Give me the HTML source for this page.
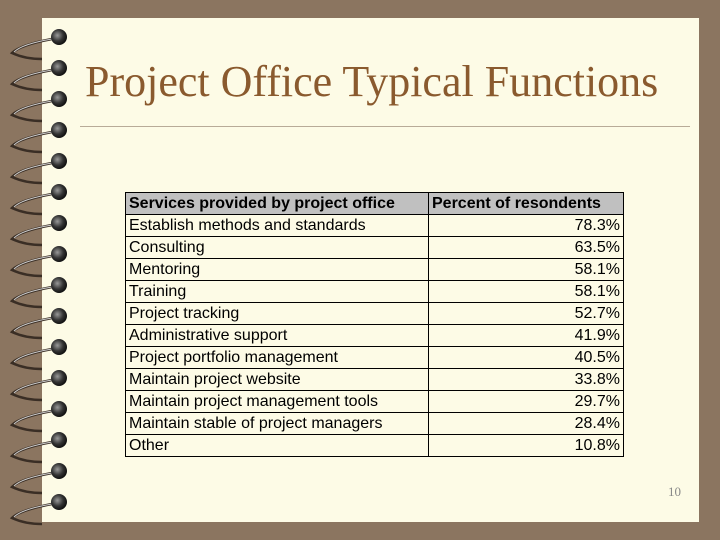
<!DOCTYPE html>
<html><head><meta charset="utf-8"><style>
body{margin:0;width:720px;height:540px;background:#8b7560;position:relative;overflow:hidden;font-family:"Liberation Sans",Arial,sans-serif}
#page{position:absolute;left:42px;top:18px;width:657px;height:504px;background:#fdfbe6}
#title{position:absolute;left:85px;top:56px;font-family:"Liberation Serif",serif;font-size:44px;color:#8a5a2e;white-space:nowrap}
#rule{position:absolute;left:80px;top:126px;width:610px;height:1px;background:#b8ab98}
table{position:absolute;left:125px;top:192px;width:499px;border-collapse:collapse;font-size:16px;color:#000}
td{border:1px solid #000;height:21px;padding:0 3px;line-height:21px;white-space:nowrap}
tr.h td{background:#c0c0c0;font-weight:bold}
td.v{text-align:right}
#num{position:absolute;left:668px;top:484px;font-family:"Liberation Serif",serif;font-size:13px;color:#888}
</style></head><body>
<div id="page"></div>
<svg id="rings" width="80" height="540" style="position:absolute;left:0;top:0">
<defs><radialGradient id="g" cx="0.4" cy="0.4" r="0.6"><stop offset="0" stop-color="#999"/><stop offset="0.6" stop-color="#333"/><stop offset="1" stop-color="#111"/></radialGradient></defs>
<g id="rg"></g></svg>
<div id="title">Project Office Typical Functions</div>
<div id="rule"></div>
<table>
<tr class="h"><td style="width:296px">Services provided by project office</td><td>Percent of resondents</td></tr>
<tr><td>Establish methods and standards</td><td class="v">78.3%</td></tr>
<tr><td>Consulting</td><td class="v">63.5%</td></tr>
<tr><td>Mentoring</td><td class="v">58.1%</td></tr>
<tr><td>Training</td><td class="v">58.1%</td></tr>
<tr><td>Project tracking</td><td class="v">52.7%</td></tr>
<tr><td>Administrative support</td><td class="v">41.9%</td></tr>
<tr><td>Project portfolio management</td><td class="v">40.5%</td></tr>
<tr><td>Maintain project website</td><td class="v">33.8%</td></tr>
<tr><td>Maintain project management tools</td><td class="v">29.7%</td></tr>
<tr><td>Maintain stable of project managers</td><td class="v">28.4%</td></tr>
<tr><td>Other</td><td class="v">10.8%</td></tr>
</table>
<div id="num">10</div>
<script>
var g=document.getElementById('rg'),s='';
for(var i=0;i<16;i++){var y=37+i*31;
s+='<path d="M52 '+(y+2)+' Q20 '+(y+8)+' 12 '+(y+16)+' Q25 '+(y+22)+' 42 '+(y+22)+'" fill="none" stroke="#3a2e25" stroke-width="2.5"/>';
s+='<path d="M52 '+(y+2)+' Q22 '+(y+7)+' 14 '+(y+15)+'" fill="none" stroke="#ccc" stroke-width="1"/>';
s+='<circle cx="59" cy="'+y+'" r="8" fill="url(#g)"/>';}
g.innerHTML=s;
</script>
</body></html>
